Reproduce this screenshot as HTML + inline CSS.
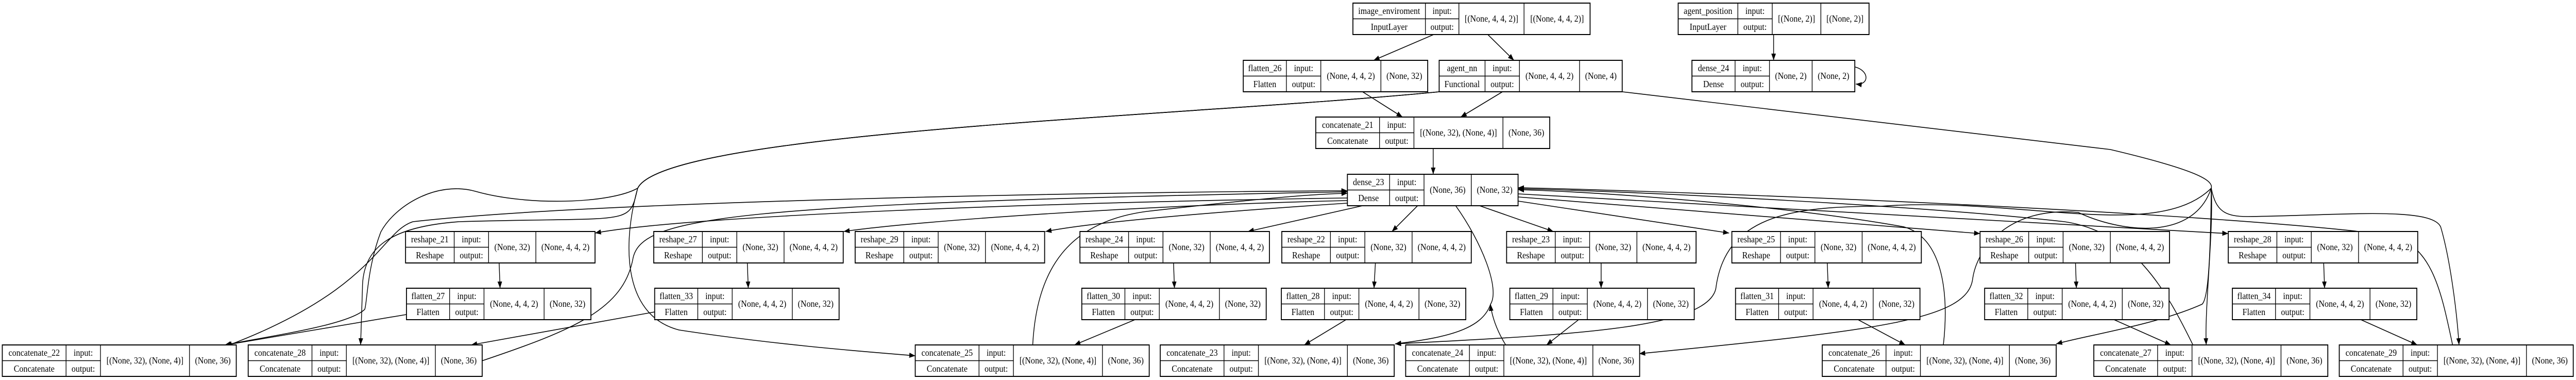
<!DOCTYPE html>
<html><head><meta charset="utf-8">
<style>
html,body{margin:0;padding:0;background:#fff;width:100%;height:100%;overflow:hidden}
svg{display:block;position:absolute;left:0;top:0;width:100vw;height:100vh}
.n rect{fill:#fff;stroke:#000;stroke-width:2}
.n path{fill:none;stroke:#000;stroke-width:1.5}
text{font-family:"Liberation Serif",serif;font-size:18px;text-anchor:middle;fill:#000}
.e path{fill:none;stroke:#000;stroke-width:1.6}
</style></head><body>
<svg viewBox="0 0 5615 737" preserveAspectRatio="none" xmlns="http://www.w3.org/2000/svg">
<defs><marker id="a" markerUnits="userSpaceOnUse" markerWidth="14" markerHeight="10" refX="13" refY="5" orient="auto"><path d="M0 0L13 5L0 10z" fill="#000"/></marker></defs>

<g class="e">
<path marker-end="url(#a)" d="M3125 67L2994 117"/>
<path marker-end="url(#a)" d="M3243 67L3300 117"/>
<path marker-end="url(#a)" d="M3866 67L3866 117"/>
<path marker-end="url(#a)" d="M4044 130C4076 138 4074 166 4045 163"/>
<path marker-end="url(#a)" d="M2970 178L3057 227"/>
<path marker-end="url(#a)" d="M3275 178L3184 227"/>
<path marker-end="url(#a)" d="M3124 288L3124 338"/>
<path marker-end="url(#a)" d="M3090 399L3034 449"/>
<path marker-end="url(#a)" d="M3225 399L3386 449"/>
<path marker-end="url(#a)" d="M3309 390L3769 452"/>
<path marker-end="url(#a)" d="M3309 382L4316 453"/>
<path marker-end="url(#a)" d="M3309 376L4857 453"/>
<path marker-end="url(#a)" d="M2970 399L2720 449"/>
<path marker-end="url(#a)" d="M2937 394C2700 408 2400 428 2279 449"/>
<path marker-end="url(#a)" d="M2937 389C2500 398 2000 428 1839 449"/>
<path marker-end="url(#a)" d="M2937 384C2300 392 1500 418 1297 452"/>
<path marker-end="url(#a)" d="M1088 510L1090 559"/>
<path marker-end="url(#a)" d="M1629 510L1631 559"/>
<path marker-end="url(#a)" d="M2558 510L2560 559"/>
<path marker-end="url(#a)" d="M2998 510L2995 559"/>
<path marker-end="url(#a)" d="M3490 510L3490 559"/>
<path marker-end="url(#a)" d="M3983 510L3985 559"/>
<path marker-end="url(#a)" d="M4524 510L4526 559"/>
<path marker-end="url(#a)" d="M5065 510L5067 559"/>
<path marker-end="url(#a)" d="M886 610L492 669"/>
<path marker-end="url(#a)" d="M1427 605L1027 669"/>
<path marker-end="url(#a)" d="M2474 620L2342 669"/>
<path marker-end="url(#a)" d="M2934 620L2843 669"/>
<path marker-end="url(#a)" d="M3441 620L3371 669"/>
<path marker-end="url(#a)" d="M4050 620L4153 669"/>
<path marker-end="url(#a)" d="M4608 620L4732 669"/>
<path marker-end="url(#a)" d="M5146 620L5269 669"/>
<path marker-end="url(#a)" d="M3137 178C2600 225 1450 255 1390 365C1360 460 1350 610 1480 640C1700 670 1900 683 1995 690"/>
<path marker-end="url(#a)" d="M3137 178C2600 225 1450 255 1390 365C1330 395 1150 400 1036 371C950 350 860 400 830 450C800 520 800 590 795 600C760 630 600 650 490 669"/>
<path marker-end="url(#a)" d="M3137 178C2600 225 1450 255 1390 365C1370 440 1380 420 1000 430C850 440 790 480 790 560L786 669"/>
<path marker-end="url(#a)" d="M3536 178L4600 290C4790 330 4825 350 4820 365C4825 450 4805 600 4809 669"/>
<path marker-end="url(#a)" d="M4820 365C4830 410 4850 420 4900 420C5100 418 5300 400 5320 440C5340 500 5355 600 5360 669"/>
<path marker-end="url(#a)" d="M4820 365C4818 520 4812 580 4800 590C4700 630 4550 650 4482 667"/>
<path marker-end="url(#a)" d="M4820 365C4780 470 4620 450 4530 412C4380 400 4310 480 4300 540C4290 620 4100 640 3573 686"/>
<path marker-end="url(#a)" d="M4820 365C4700 470 4400 380 4100 400C3900 400 3760 420 3740 560C3720 640 3400 650 3041 667"/>
<path marker-end="url(#a)" d="M500 669C820 560 830 450 900 430C1300 390 2400 372 2937 370"/>
<path marker-end="url(#a)" d="M1050 700C1250 640 1360 600 1380 500C1400 420 1600 395 2937 372"/>
<path marker-end="url(#a)" d="M2251 669C2260 520 2330 430 2500 410C2700 390 2850 376 2937 375"/>
<path marker-end="url(#a)" d="M3282 669C3255 630 3250 600 3249 590"/>
<path marker-end="url(#a)" d="M3173 399C3230 470 3270 560 3249 590C3230 640 3150 655 3041 667"/>
<path marker-end="url(#a)" d="M4236 669C4250 560 4230 460 4150 440C3900 400 3500 372 3309 368"/>
<path marker-end="url(#a)" d="M4780 669C4720 560 4650 450 4500 430C4200 400 3600 372 3309 366"/>
<path marker-end="url(#a)" d="M5346 669C5320 560 5300 470 5200 455C4800 410 3700 372 3309 364"/>
</g>

<g class="n" transform="translate(2949,6)"><rect width="517" height="61"/><path d="M158 0V61M231 0V61M373 0V61M0 30.5H231"/><text x="79" y="21">image_enviroment</text><text x="79" y="52">InputLayer</text><text x="194.5" y="21">input:</text><text x="194.5" y="52">output:</text><text x="302" y="36">[(None, 4, 4, 2)]</text><text x="445" y="36">[(None, 4, 4, 2)]</text></g>
<g class="n" transform="translate(3658,6)"><rect width="416" height="61"/><path d="M130 0V61M205 0V61M311 0V61M0 30.5H205"/><text x="65" y="21">agent_position</text><text x="65" y="52">InputLayer</text><text x="167.5" y="21">input:</text><text x="167.5" y="52">output:</text><text x="258" y="36">[(None, 2)]</text><text x="363.5" y="36">[(None, 2)]</text></g>
<g class="n" transform="translate(2710,117)"><rect width="402" height="61"/><path d="M94 0V61M169 0V61M300 0V61M0 30.5H169"/><text x="47" y="21">flatten_26</text><text x="47" y="52">Flatten</text><text x="131.5" y="21">input:</text><text x="131.5" y="52">output:</text><text x="234.5" y="36">(None, 4, 4, 2)</text><text x="351" y="36">(None, 32)</text></g>
<g class="n" transform="translate(3137,117)"><rect width="399" height="61"/><path d="M100 0V61M175 0V61M306 0V61M0 30.5H175"/><text x="50" y="21">agent_nn</text><text x="50" y="52">Functional</text><text x="137.5" y="21">input:</text><text x="137.5" y="52">output:</text><text x="240.5" y="36">(None, 4, 4, 2)</text><text x="352.5" y="36">(None, 4)</text></g>
<g class="n" transform="translate(3688,117)"><rect width="355" height="61"/><path d="M94 0V61M169 0V61M262 0V61M0 30.5H169"/><text x="47" y="21">dense_24</text><text x="47" y="52">Dense</text><text x="131.5" y="21">input:</text><text x="131.5" y="52">output:</text><text x="215.5" y="36">(None, 2)</text><text x="308.5" y="36">(None, 2)</text></g>
<g class="n" transform="translate(2868,227)"><rect width="510" height="61"/><path d="M139 0V61M214 0V61M408 0V61M0 30.5H214"/><text x="69.5" y="21">concatenate_21</text><text x="69.5" y="52">Concatenate</text><text x="176.5" y="21">input:</text><text x="176.5" y="52">output:</text><text x="311" y="36">[(None, 32), (None, 4)]</text><text x="459" y="36">(None, 36)</text></g>
<g class="n" transform="translate(2937,338)"><rect width="372" height="61"/><path d="M92 0V61M167 0V61M270 0V61M0 30.5H167"/><text x="46" y="21">dense_23</text><text x="46" y="52">Dense</text><text x="129.5" y="21">input:</text><text x="129.5" y="52">output:</text><text x="218.5" y="36">(None, 36)</text><text x="321" y="36">(None, 32)</text></g>

<g class="n" transform="translate(884,449)"><rect width="413" height="61"/><path d="M106 0V61M181 0V61M284 0V61M0 30.5H181"/><text x="53" y="21">reshape_21</text><text x="53" y="52">Reshape</text><text x="143.5" y="21">input:</text><text x="143.5" y="52">output:</text><text x="232.5" y="36">(None, 32)</text><text x="348.5" y="36">(None, 4, 4, 2)</text></g>
<g class="n" transform="translate(1425,449)"><rect width="413" height="61"/><path d="M106 0V61M181 0V61M284 0V61M0 30.5H181"/><text x="53" y="21">reshape_27</text><text x="53" y="52">Reshape</text><text x="143.5" y="21">input:</text><text x="143.5" y="52">output:</text><text x="232.5" y="36">(None, 32)</text><text x="348.5" y="36">(None, 4, 4, 2)</text></g>
<g class="n" transform="translate(1864,449)"><rect width="413" height="61"/><path d="M106 0V61M181 0V61M284 0V61M0 30.5H181"/><text x="53" y="21">reshape_29</text><text x="53" y="52">Reshape</text><text x="143.5" y="21">input:</text><text x="143.5" y="52">output:</text><text x="232.5" y="36">(None, 32)</text><text x="348.5" y="36">(None, 4, 4, 2)</text></g>
<g class="n" transform="translate(2354,449)"><rect width="413" height="61"/><path d="M106 0V61M181 0V61M284 0V61M0 30.5H181"/><text x="53" y="21">reshape_24</text><text x="53" y="52">Reshape</text><text x="143.5" y="21">input:</text><text x="143.5" y="52">output:</text><text x="232.5" y="36">(None, 32)</text><text x="348.5" y="36">(None, 4, 4, 2)</text></g>
<g class="n" transform="translate(2794,449)"><rect width="413" height="61"/><path d="M106 0V61M181 0V61M284 0V61M0 30.5H181"/><text x="53" y="21">reshape_22</text><text x="53" y="52">Reshape</text><text x="143.5" y="21">input:</text><text x="143.5" y="52">output:</text><text x="232.5" y="36">(None, 32)</text><text x="348.5" y="36">(None, 4, 4, 2)</text></g>
<g class="n" transform="translate(3284,449)"><rect width="413" height="61"/><path d="M106 0V61M181 0V61M284 0V61M0 30.5H181"/><text x="53" y="21">reshape_23</text><text x="53" y="52">Reshape</text><text x="143.5" y="21">input:</text><text x="143.5" y="52">output:</text><text x="232.5" y="36">(None, 32)</text><text x="348.5" y="36">(None, 4, 4, 2)</text></g>
<g class="n" transform="translate(3775,449)"><rect width="413" height="61"/><path d="M106 0V61M181 0V61M284 0V61M0 30.5H181"/><text x="53" y="21">reshape_25</text><text x="53" y="52">Reshape</text><text x="143.5" y="21">input:</text><text x="143.5" y="52">output:</text><text x="232.5" y="36">(None, 32)</text><text x="348.5" y="36">(None, 4, 4, 2)</text></g>
<g class="n" transform="translate(4316,449)"><rect width="413" height="61"/><path d="M106 0V61M181 0V61M284 0V61M0 30.5H181"/><text x="53" y="21">reshape_26</text><text x="53" y="52">Reshape</text><text x="143.5" y="21">input:</text><text x="143.5" y="52">output:</text><text x="232.5" y="36">(None, 32)</text><text x="348.5" y="36">(None, 4, 4, 2)</text></g>
<g class="n" transform="translate(4857,449)"><rect width="413" height="61"/><path d="M106 0V61M181 0V61M284 0V61M0 30.5H181"/><text x="53" y="21">reshape_28</text><text x="53" y="52">Reshape</text><text x="143.5" y="21">input:</text><text x="143.5" y="52">output:</text><text x="232.5" y="36">(None, 32)</text><text x="348.5" y="36">(None, 4, 4, 2)</text></g>

<g class="n" transform="translate(886,559)"><rect width="402" height="61"/><path d="M94 0V61M169 0V61M300 0V61M0 30.5H169"/><text x="47" y="21">flatten_27</text><text x="47" y="52">Flatten</text><text x="131.5" y="21">input:</text><text x="131.5" y="52">output:</text><text x="234.5" y="36">(None, 4, 4, 2)</text><text x="351" y="36">(None, 32)</text></g>
<g class="n" transform="translate(1427,559)"><rect width="402" height="61"/><path d="M94 0V61M169 0V61M300 0V61M0 30.5H169"/><text x="47" y="21">flatten_33</text><text x="47" y="52">Flatten</text><text x="131.5" y="21">input:</text><text x="131.5" y="52">output:</text><text x="234.5" y="36">(None, 4, 4, 2)</text><text x="351" y="36">(None, 32)</text></g>
<g class="n" transform="translate(2358,559)"><rect width="402" height="61"/><path d="M94 0V61M169 0V61M300 0V61M0 30.5H169"/><text x="47" y="21">flatten_30</text><text x="47" y="52">Flatten</text><text x="131.5" y="21">input:</text><text x="131.5" y="52">output:</text><text x="234.5" y="36">(None, 4, 4, 2)</text><text x="351" y="36">(None, 32)</text></g>
<g class="n" transform="translate(2793,559)"><rect width="402" height="61"/><path d="M94 0V61M169 0V61M300 0V61M0 30.5H169"/><text x="47" y="21">flatten_28</text><text x="47" y="52">Flatten</text><text x="131.5" y="21">input:</text><text x="131.5" y="52">output:</text><text x="234.5" y="36">(None, 4, 4, 2)</text><text x="351" y="36">(None, 32)</text></g>
<g class="n" transform="translate(3291,559)"><rect width="402" height="61"/><path d="M94 0V61M169 0V61M300 0V61M0 30.5H169"/><text x="47" y="21">flatten_29</text><text x="47" y="52">Flatten</text><text x="131.5" y="21">input:</text><text x="131.5" y="52">output:</text><text x="234.5" y="36">(None, 4, 4, 2)</text><text x="351" y="36">(None, 32)</text></g>
<g class="n" transform="translate(3783,559)"><rect width="402" height="61"/><path d="M94 0V61M169 0V61M300 0V61M0 30.5H169"/><text x="47" y="21">flatten_31</text><text x="47" y="52">Flatten</text><text x="131.5" y="21">input:</text><text x="131.5" y="52">output:</text><text x="234.5" y="36">(None, 4, 4, 2)</text><text x="351" y="36">(None, 32)</text></g>
<g class="n" transform="translate(4326,559)"><rect width="402" height="61"/><path d="M94 0V61M169 0V61M300 0V61M0 30.5H169"/><text x="47" y="21">flatten_32</text><text x="47" y="52">Flatten</text><text x="131.5" y="21">input:</text><text x="131.5" y="52">output:</text><text x="234.5" y="36">(None, 4, 4, 2)</text><text x="351" y="36">(None, 32)</text></g>
<g class="n" transform="translate(4866,559)"><rect width="402" height="61"/><path d="M94 0V61M169 0V61M300 0V61M0 30.5H169"/><text x="47" y="21">flatten_34</text><text x="47" y="52">Flatten</text><text x="131.5" y="21">input:</text><text x="131.5" y="52">output:</text><text x="234.5" y="36">(None, 4, 4, 2)</text><text x="351" y="36">(None, 32)</text></g>

<g class="n" transform="translate(5,669)"><rect width="510" height="61"/><path d="M139 0V61M214 0V61M408 0V61M0 30.5H214"/><text x="69.5" y="21">concatenate_22</text><text x="69.5" y="52">Concatenate</text><text x="176.5" y="21">input:</text><text x="176.5" y="52">output:</text><text x="311" y="36">[(None, 32), (None, 4)]</text><text x="459" y="36">(None, 36)</text></g>
<g class="n" transform="translate(541,669)"><rect width="510" height="61"/><path d="M139 0V61M214 0V61M408 0V61M0 30.5H214"/><text x="69.5" y="21">concatenate_28</text><text x="69.5" y="52">Concatenate</text><text x="176.5" y="21">input:</text><text x="176.5" y="52">output:</text><text x="311" y="36">[(None, 32), (None, 4)]</text><text x="459" y="36">(None, 36)</text></g>
<g class="n" transform="translate(1995,669)"><rect width="510" height="61"/><path d="M139 0V61M214 0V61M408 0V61M0 30.5H214"/><text x="69.5" y="21">concatenate_25</text><text x="69.5" y="52">Concatenate</text><text x="176.5" y="21">input:</text><text x="176.5" y="52">output:</text><text x="311" y="36">[(None, 32), (None, 4)]</text><text x="459" y="36">(None, 36)</text></g>
<g class="n" transform="translate(2529,669)"><rect width="510" height="61"/><path d="M139 0V61M214 0V61M408 0V61M0 30.5H214"/><text x="69.5" y="21">concatenate_23</text><text x="69.5" y="52">Concatenate</text><text x="176.5" y="21">input:</text><text x="176.5" y="52">output:</text><text x="311" y="36">[(None, 32), (None, 4)]</text><text x="459" y="36">(None, 36)</text></g>
<g class="n" transform="translate(3064,669)"><rect width="510" height="61"/><path d="M139 0V61M214 0V61M408 0V61M0 30.5H214"/><text x="69.5" y="21">concatenate_24</text><text x="69.5" y="52">Concatenate</text><text x="176.5" y="21">input:</text><text x="176.5" y="52">output:</text><text x="311" y="36">[(None, 32), (None, 4)]</text><text x="459" y="36">(None, 36)</text></g>
<g class="n" transform="translate(3972,669)"><rect width="510" height="61"/><path d="M139 0V61M214 0V61M408 0V61M0 30.5H214"/><text x="69.5" y="21">concatenate_26</text><text x="69.5" y="52">Concatenate</text><text x="176.5" y="21">input:</text><text x="176.5" y="52">output:</text><text x="311" y="36">[(None, 32), (None, 4)]</text><text x="459" y="36">(None, 36)</text></g>
<g class="n" transform="translate(4564,669)"><rect width="510" height="61"/><path d="M139 0V61M214 0V61M408 0V61M0 30.5H214"/><text x="69.5" y="21">concatenate_27</text><text x="69.5" y="52">Concatenate</text><text x="176.5" y="21">input:</text><text x="176.5" y="52">output:</text><text x="311" y="36">[(None, 32), (None, 4)]</text><text x="459" y="36">(None, 36)</text></g>
<g class="n" transform="translate(5099,669)"><rect width="510" height="61"/><path d="M139 0V61M214 0V61M408 0V61M0 30.5H214"/><text x="69.5" y="21">concatenate_29</text><text x="69.5" y="52">Concatenate</text><text x="176.5" y="21">input:</text><text x="176.5" y="52">output:</text><text x="311" y="36">[(None, 32), (None, 4)]</text><text x="459" y="36">(None, 36)</text></g>
</svg>
</body></html>
